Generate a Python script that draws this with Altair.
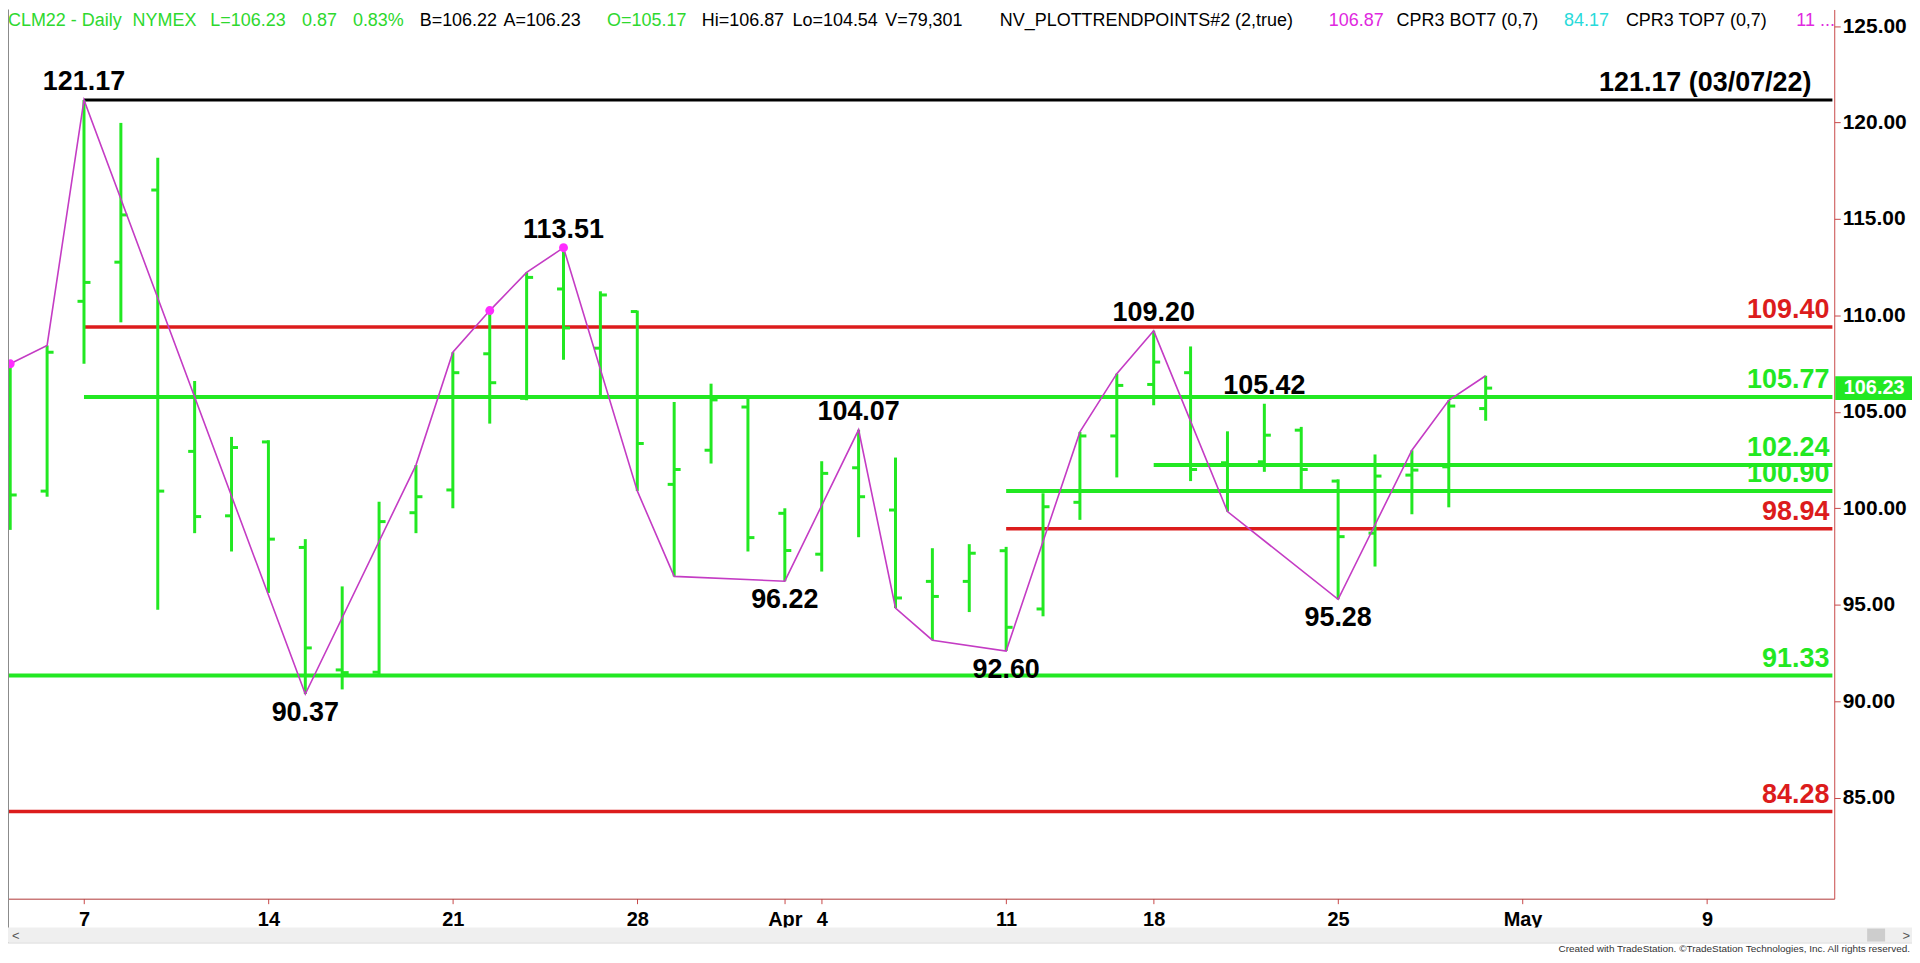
import altair as alt
import pandas as pd

# ---------------- data ----------------
dates = ["2022-03-03", "2022-03-04", "2022-03-07", "2022-03-08", "2022-03-09", "2022-03-10",
         "2022-03-11", "2022-03-14", "2022-03-15", "2022-03-16", "2022-03-17", "2022-03-18",
         "2022-03-21", "2022-03-22", "2022-03-23", "2022-03-24", "2022-03-25", "2022-03-28",
         "2022-03-29", "2022-03-30", "2022-03-31", "2022-04-01", "2022-04-04", "2022-04-05",
         "2022-04-06", "2022-04-07", "2022-04-08", "2022-04-11", "2022-04-12", "2022-04-13",
         "2022-04-14", "2022-04-18", "2022-04-19", "2022-04-20", "2022-04-21", "2022-04-22",
         "2022-04-25", "2022-04-26", "2022-04-27", "2022-04-28", "2022-04-29"]
opens = [103.18, 100.89, 110.73, 112.76, 116.50, 102.95, 99.61, 103.44, 97.97, 91.62,
         91.50, 99.77, 100.95, 108.01, 105.70, 111.37, 108.30, 110.20, 101.24, 103.01,
         105.25, 99.74, 97.62, 102.10, 99.91, 96.21, 96.21, 97.80, 94.78, 100.31,
         103.75, 106.42, 107.03, 102.36, 102.41, 104.05, 101.41, 98.71, 101.72, 102.15,
         105.17]
highs = [107.49, 108.44, 121.17, 119.98, 118.17, 106.60, 103.70, 103.53, 98.40, 95.95,
         100.34, 102.24, 108.09, 110.25, 112.23, 113.51, 111.25, 110.25, 105.51, 106.46,
         105.77, 100.00, 102.44, 104.07, 102.63, 97.93, 98.14, 98.00, 100.78, 103.96,
         106.98, 109.20, 108.39, 103.99, 105.42, 104.22, 101.50, 102.79, 103.01, 105.60,
         106.87]
lows = [98.88, 100.60, 107.49, 109.64, 94.74, 98.71, 97.76, 95.61, 90.37, 90.61,
        91.39, 98.71, 100.00, 104.39, 105.60, 107.70, 105.77, 100.90, 96.47, 102.32,
        97.76, 96.22, 96.72, 98.50, 94.83, 93.16, 94.62, 92.60, 94.40, 99.40,
        101.60, 105.34, 101.41, 99.83, 101.89, 100.86, 95.28, 96.98, 99.69, 100.05,
        104.54]
closes = [100.69, 108.09, 111.71, 115.21, 100.89, 99.57, 103.15, 98.40, 92.76, 91.48,
          99.31, 100.60, 107.03, 106.51, 111.97, 109.35, 111.06, 103.36, 102.01, 105.62,
          98.48, 97.81, 101.81, 100.60, 95.35, 95.43, 97.67, 93.83, 100.08, 103.75,
          106.37, 107.58, 102.01, 102.24, 103.79, 102.01, 98.53, 101.67, 101.98, 105.30,
          106.23]

trend_idx = [0, 1, 2, 8, 11, 12, 13, 14, 15, 17, 18, 21, 23, 24, 25, 27, 29, 30, 31, 33, 36, 38, 39, 40]
trend_val = [107.49, 108.44, 121.17, 90.37, 102.24, 108.09, 110.25, 112.23, 113.51, 100.90,
             96.47, 96.22, 104.07, 94.83, 93.16, 92.60, 103.96, 106.98, 109.20, 99.83,
             95.28, 103.01, 105.60, 106.87]
dot_idx = [0, 13, 15]
dot_val = [107.49, 110.25, 113.51]

level_values = [121.17, 109.40, 105.77, 102.24, 100.90, 98.94, 91.33, 84.28]
level_start_bar = [2, 2, 2, 31, 27, 27, None, None]
level_kind = ["swing", "red", "green", "green", "green", "red", "green", "red"]
level_text = ["121.17 (03/07/22)", "109.40", "105.77", "102.24", "100.90", "98.94", "91.33", "84.28"]

swing_idx = [2, 15, 23, 31, 34, 21, 27, 8, 36]
swing_val = [121.17, 113.51, 104.07, 109.20, 105.42, 96.22, 92.60, 90.37, 95.28]
swing_side = ["high", "high", "high", "high", "high", "low", "low", "low", "low"]

x_tick_idx = [2, 7, 12, 17, 21, 22, 27, 31, 36, 41, 46]
x_tick_lab = ["7", "14", "21", "28", "Apr", "4", "11", "18", "25", "May", "9"]
y_ticks = [85, 90, 95, 100, 105, 110, 115, 120, 125]
last_price = 106.23

# header tokens: (text, colour name, left edge in page pixels)
header_tokens = [
    ("CLM22 - Daily", "green", 5), ("NYMEX", "green", 133), ("L=106.23", "green", 211),
    ("0.87", "green", 303), ("0.83%", "green", 354), ("B=106.22", "black", 421),
    ("A=106.23", "black", 505), ("O=105.17", "green", 609), ("Hi=106.87", "black", 704),
    ("Lo=104.54", "black", 795), ("V=79,301", "black", 888),
    ("NV_PLOTTRENDPOINTS#2 (2,true)", "black", 1003), ("106.87", "magenta", 1333),
    ("CPR3 BOT7 (0,7)", "black", 1401), ("84.17", "cyan", 1569),
    ("CPR3 TOP7 (0,7)", "black", 1631), ("11 ...", "magenta", 1802),
]

# ---------------- styling ----------------
GREEN = "#22e822"
RED = "#dc1c1c"
BLACK = "#000000"
MAGENTA = "#c43cc4"
DOT = "#ff2cff"
AXIS_RED = "#c84848"
FONT = "Liberation Sans"
HEADER_COLORS = {"green": "#2ed82e", "black": "#000000", "magenta": "#e028e0", "cyan": "#28dada"}

W, H = 1832, 892
X_MIN, X_MAX = -0.06, 49.45
Y_MIN, Y_MAX = 79.76, 125.86

xscale = alt.Scale(domain=[X_MIN, X_MAX], nice=False, zero=False)
yscale = alt.Scale(domain=[Y_MIN, Y_MAX], nice=False, zero=False)

label_expr = " : ".join(f"datum.value == {i} ? '{l}'" for i, l in zip(x_tick_idx, x_tick_lab)) + " : ''"

xaxis = alt.Axis(values=x_tick_idx, labelExpr=label_expr, title=None, grid=False,
                 domainColor="#b03838", domainWidth=1, tickColor=AXIS_RED, tickSize=5,
                 labelFontSize=20, labelFontWeight="bold", labelColor="black", labelFont=FONT,
                 labelPadding=6, labelOverlap=False, labelFlush=False)
yaxis = alt.Axis(orient="right", values=y_ticks, format=".2f", title=None, grid=False,
                 domainColor=AXIS_RED, domainWidth=1, tickColor=AXIS_RED, tickSize=6,
                 labelFontSize=21, labelFontWeight="bold", labelColor="black", labelFont=FONT,
                 labelPadding=2)


def X(f):
    return alt.X(f"{f}:Q", scale=xscale, axis=xaxis)


def Y(f):
    return alt.Y(f"{f}:Q", scale=yscale, axis=yaxis)


# ---------------- tables ----------------
bars = pd.DataFrame({"i": list(range(len(dates))), "date": dates, "open": opens,
                     "high": highs, "low": lows, "close": closes})
trend = pd.DataFrame({"i": trend_idx, "val": trend_val})
dots = pd.DataFrame({"i": dot_idx, "val": dot_val})
levels = pd.DataFrame({
    "level": level_values,
    "start": [X_MIN if s is None else s for s in level_start_bar],
    "end": [X_MAX - 0.05] * len(level_values),
    "kind": level_kind,
    "text": level_text,
})
swings = pd.DataFrame({"i": swing_idx, "val": swing_val, "side": swing_side,
                       "text": [f"{v:.2f}" for v in swing_val]})
lastdf = pd.DataFrame({"p": [last_price], "label": [f"{last_price:.2f}"]})
dummy = pd.DataFrame({"a": [0]})

kinds = ["swing", "red", "green"]
kind_color = alt.Color("kind:N", scale=alt.Scale(domain=kinds, range=[BLACK, RED, GREEN]), legend=None)

# ---------------- layers ----------------
base = alt.Chart(bars)
hl = base.mark_rule(color=GREEN, strokeWidth=3).encode(x=X("i"), y=Y("low"), y2="high:Q")
op = base.mark_rule(color=GREEN, strokeWidth=3, xOffset=-6.5).encode(x=X("i"), x2="i:Q", y=Y("open"))
cl = base.mark_rule(color=GREEN, strokeWidth=3, x2Offset=6.5).encode(x=X("i"), x2="i:Q", y=Y("close"))

lvl_labels = alt.Chart(levels).transform_filter("datum.kind != 'swing'").mark_text(
    align="right", baseline="alphabetic", dx=-3, dy=-9, fontSize=27, fontWeight="bold", font=FONT
).encode(x=X("end"), y=Y("level"), text="text:N", color=kind_color)
lvl_label_top = alt.Chart(levels).transform_filter("datum.kind == 'swing'").mark_text(
    align="right", baseline="alphabetic", dx=-21, dy=-9, fontSize=27, fontWeight="bold", font=FONT
).encode(x=X("end"), y=Y("level"), text="text:N", color=kind_color)

lvl_rules = alt.Chart(levels).mark_rule().encode(
    x=X("start"), x2="end:Q", y=Y("level"), color=kind_color,
    strokeWidth=alt.StrokeWidth("kind:N", scale=alt.Scale(domain=kinds, range=[3, 4, 4]), legend=None),
)

trend_line = alt.Chart(trend).mark_line(color=MAGENTA, strokeWidth=1.6).encode(
    x=X("i"), y=Y("val"), order="i:Q")
trend_dots = alt.Chart(dots).mark_circle(color=DOT, size=80, opacity=1).encode(x=X("i"), y=Y("val"))

swing_hi = alt.Chart(swings).transform_filter("datum.side == 'high'").mark_text(
    align="center", baseline="alphabetic", dy=-10, fontSize=27, fontWeight="bold", font=FONT, color=BLACK
).encode(x=X("i"), y=Y("val"), text="text:N")
swing_lo = alt.Chart(swings).transform_filter("datum.side == 'low'").mark_text(
    align="center", baseline="alphabetic", dy=27, fontSize=27, fontWeight="bold", font=FONT, color=BLACK
).encode(x=X("i"), y=Y("val"), text="text:N")

last_box = alt.Chart(lastdf).mark_rect(color=GREEN, yOffset=-12, y2Offset=12).encode(
    x=alt.value(W + 1), x2=alt.value(W + 79), y=Y("p"), y2="p:Q")
last_txt = alt.Chart(lastdf).mark_text(color="white", fontSize=20, fontWeight="bold", font=FONT,
                                       align="center", baseline="middle").encode(
    x=alt.value(W + 40), y=Y("p"), text="label:N")

header_layers = []
for tok, col, px in header_tokens:
    header_layers.append(
        alt.Chart(dummy).mark_text(text=tok, color=HEADER_COLORS[col], fontSize=18, font=FONT,
                                   align="left", baseline="alphabetic").encode(
            x=alt.value(max(px - 8, 0)), y=alt.value(17))
    )

left_border = alt.Chart(dummy).mark_rule(color="#8a8a8a", strokeWidth=1).encode(
    x=alt.value(0.5), y=alt.value(0), y2=alt.value(H + 44))
scroll_band = alt.Chart(dummy).mark_rect(color="#efefef").encode(
    x=alt.value(0), x2=alt.value(W + 78), y=alt.value(H + 29), y2=alt.value(H + 44))
scroll_line = alt.Chart(dummy).mark_rule(color="#d8d8d8", strokeWidth=1).encode(
    x=alt.value(0), x2=alt.value(W + 78), y=alt.value(H + 44.5))
scroll_thumb = alt.Chart(dummy).mark_rect(color="#cdcdcd").encode(
    x=alt.value(1865), x2=alt.value(1883), y=alt.value(H + 30), y2=alt.value(H + 43))
scroll_left = alt.Chart(dummy).mark_text(text="<", color="#555555", fontSize=13, font=FONT,
                                         align="left", baseline="middle").encode(
    x=alt.value(4), y=alt.value(H + 37))
scroll_right = alt.Chart(dummy).mark_text(text=">", color="#555555", fontSize=13, font=FONT,
                                          align="right", baseline="middle").encode(
    x=alt.value(W + 76), y=alt.value(H + 37))
footer = alt.Chart(dummy).mark_text(
    text="Created with TradeStation. \u00a9TradeStation Technologies, Inc. All rights reserved.",
    color="#333333", fontSize=10, font=FONT, align="right", baseline="alphabetic").encode(
    x=alt.value(W + 76), y=alt.value(H + 53))

chart = alt.layer(
    lvl_labels, lvl_label_top, lvl_rules, hl, op, cl, trend_line, trend_dots,
    swing_hi, swing_lo, last_box, last_txt, *header_layers,
    left_border, scroll_band, scroll_line, scroll_thumb, scroll_left, scroll_right, footer,
).properties(
    width=W, height=H,
    padding={"left": 0, "top": 0, "right": 78, "bottom": 54},
    autosize=alt.AutoSizeParams(type="none"),
    background="white",
).configure_view(stroke=None)

chart.save("out.html", embed_options={"renderer": "svg", "actions": False})
